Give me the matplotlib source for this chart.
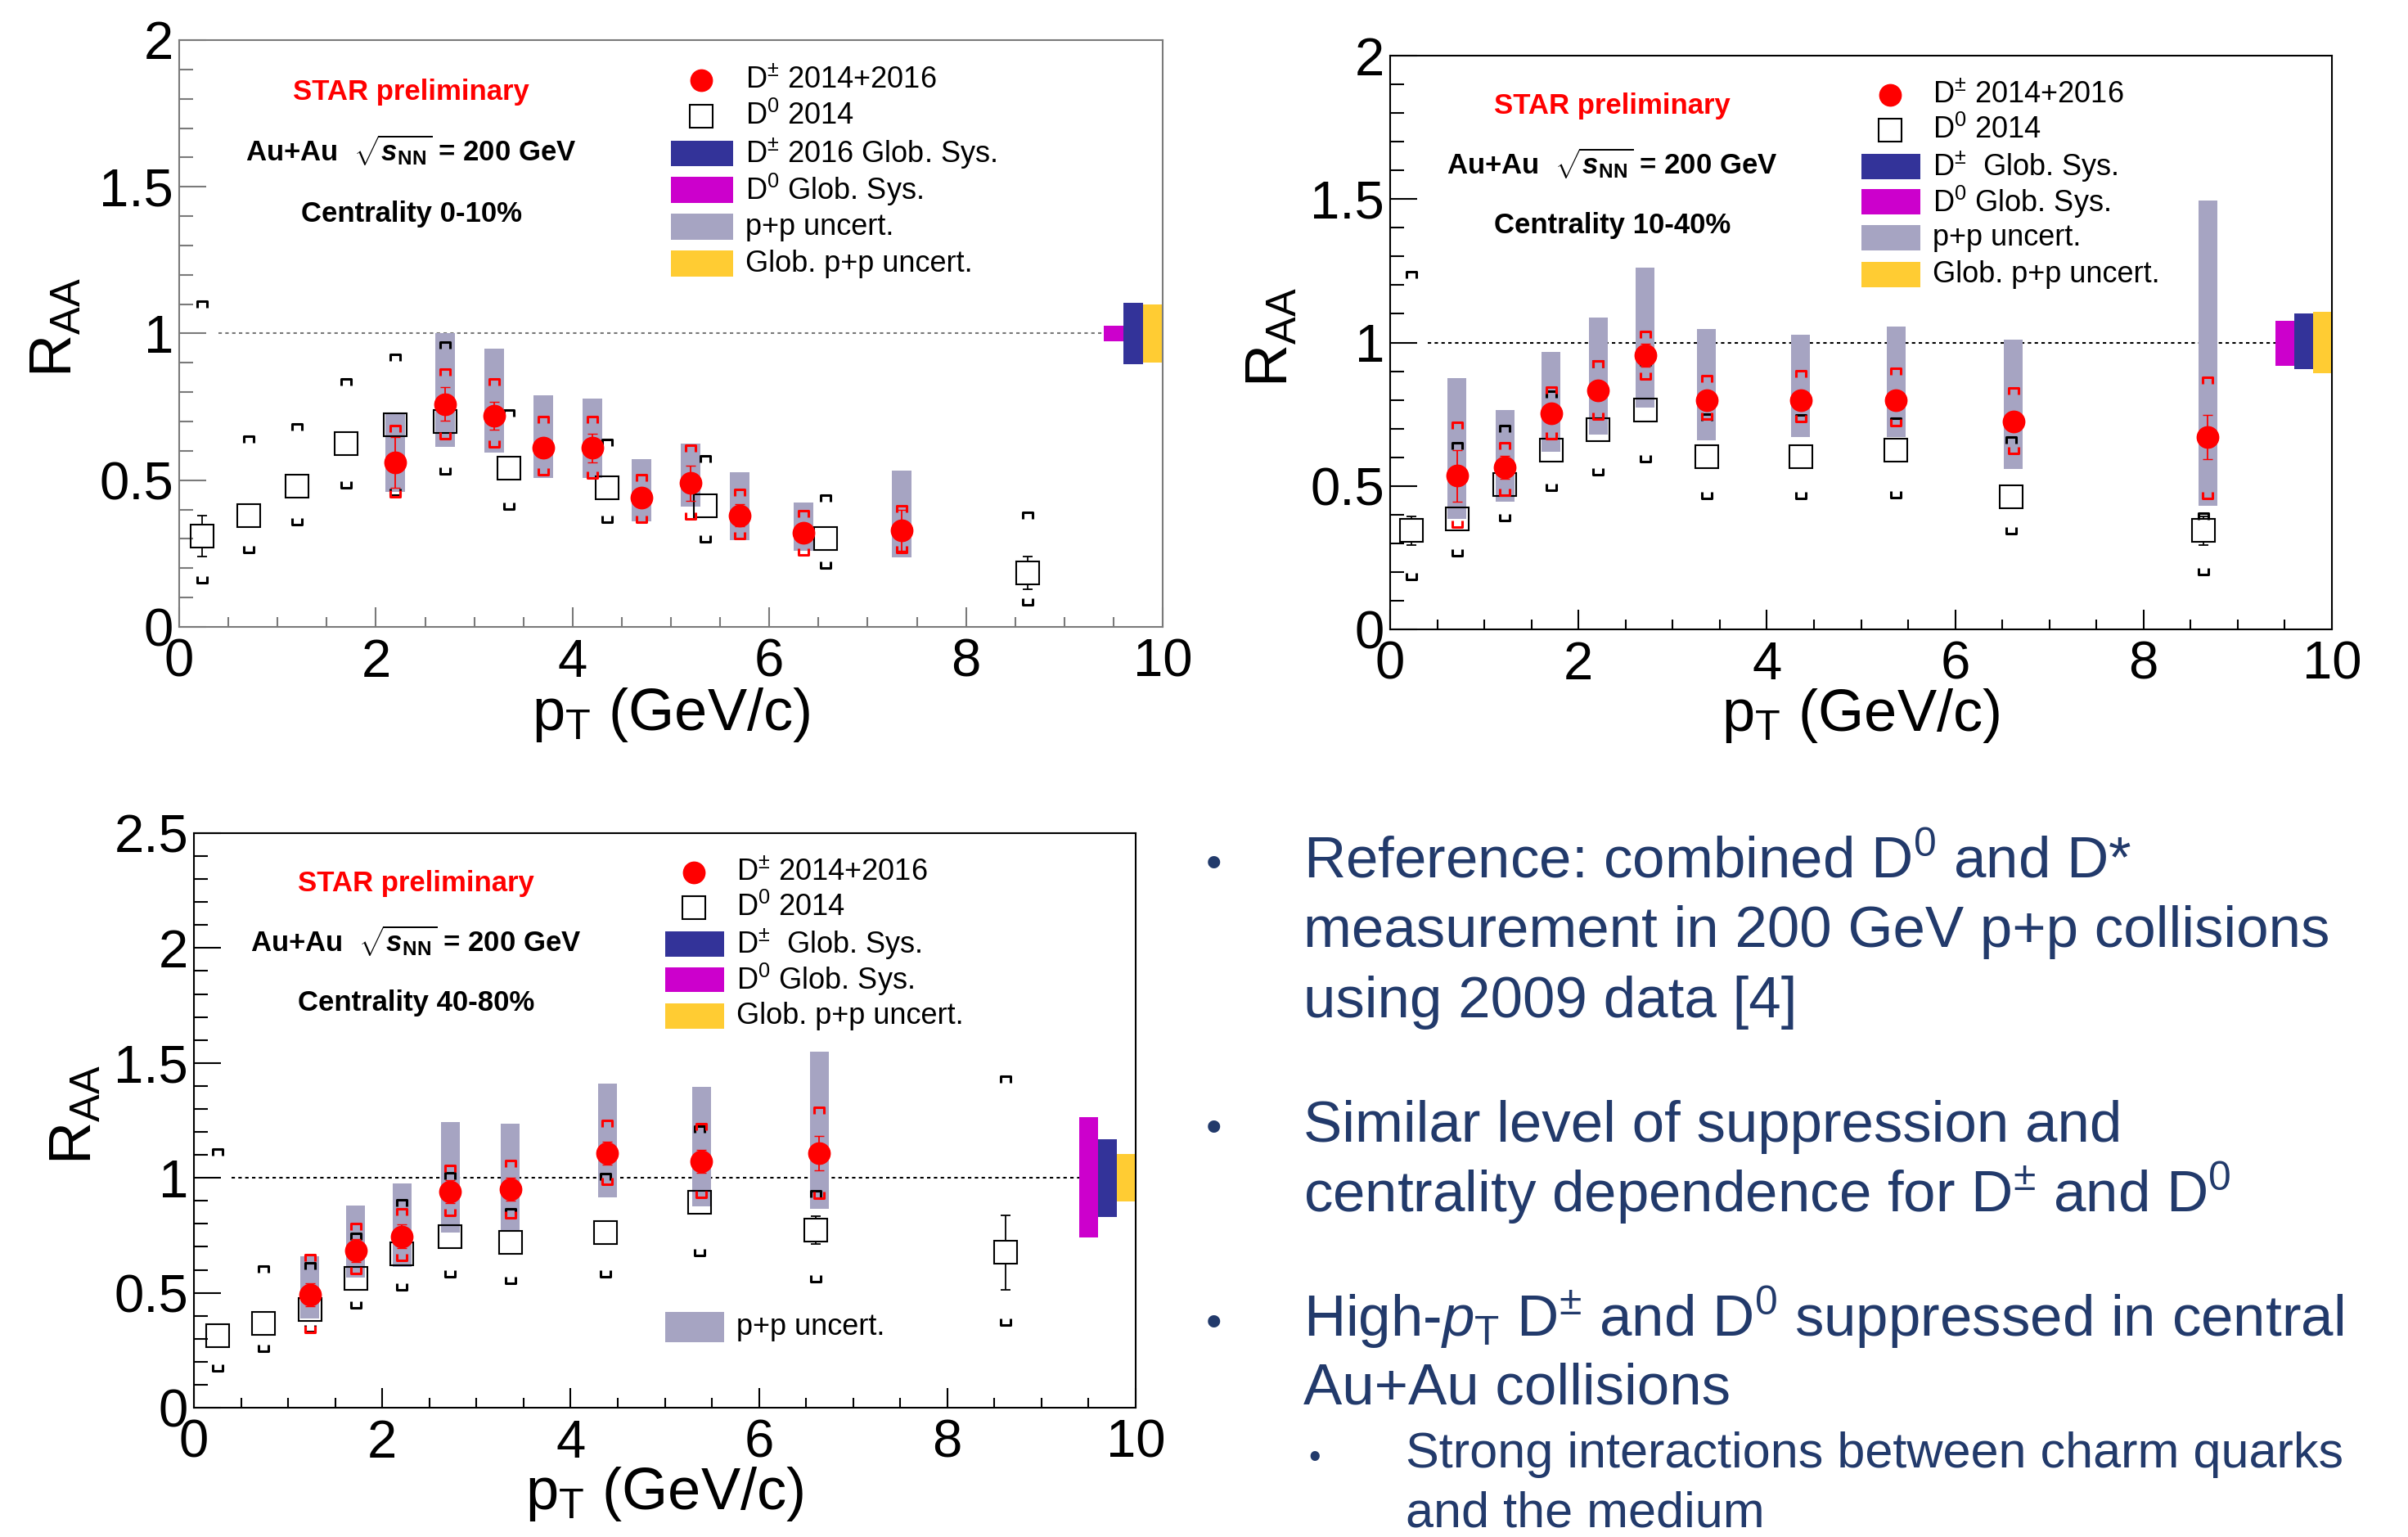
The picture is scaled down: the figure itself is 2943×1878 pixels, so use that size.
import matplotlib
matplotlib.use("Agg")
import matplotlib.pyplot as plt
from matplotlib.path import Path
from matplotlib.patches import Rectangle
from matplotlib.ticker import MultipleLocator, FuncFormatter

plt.rcParams['font.family'] = ['Liberation Sans', 'DejaVu Sans']
plt.rcParams['mathtext.fontset'] = 'custom'
plt.rcParams['mathtext.rm'] = 'Liberation Sans'
plt.rcParams['mathtext.it'] = 'Liberation Sans:italic'
plt.rcParams['mathtext.bf'] = 'Liberation Sans:bold'
plt.rcParams['mathtext.bfit'] = 'Liberation Sans:bold:italic'

GRAY = "#A6A4C2"
NAVY = "#333399"
MAGENTA = "#CC00CC"
YELLOW = "#FFCC33"
TXT = "#223A6B"

# ---------------- centrality 0-10% ----------------
c1_dpm_x = [2.2, 2.7, 3.2, 3.7, 4.2, 4.7, 5.2, 5.7, 6.35, 7.35]
c1_dpm_y = [0.56, 0.76, 0.72, 0.61, 0.61, 0.44, 0.49, 0.38, 0.32, 0.33]
c1_dpm_stat = [0.087, 0.057, 0.047, 0.03, 0.048, 0.03, 0.06, 0.038, 0.03, 0.07]
c1_dpm_sys_hi = [0.674, 0.867, 0.833, 0.705, 0.705, 0.509, 0.607, 0.458, 0.384, 0.401]
c1_dpm_sys_lo = [0.456, 0.652, 0.624, 0.529, 0.52, 0.369, 0.378, 0.312, 0.256, 0.266]
c1_pp_hi = [0.727, 1.0, 0.948, 0.79, 0.777, 0.571, 0.624, 0.528, 0.423, 0.533]
c1_pp_lo = [0.459, 0.615, 0.593, 0.509, 0.509, 0.361, 0.411, 0.296, 0.259, 0.237]
c1_d0_x = [0.23, 0.71, 1.2, 1.7, 2.2, 2.7, 3.35, 4.35, 5.35, 6.57, 8.63]
c1_d0_y = [0.31, 0.38, 0.48, 0.624, 0.69, 0.70, 0.54, 0.473, 0.414, 0.30, 0.185]
c1_d0_stat = [0.07, 0.02, 0.02, 0.02, 0.02, 0.02, 0.02, 0.02, 0.02, 0.02, 0.056]
c1_d0_sys_hi = [1.10, 0.638, 0.68, 0.833, 0.918, 0.959, 0.727, 0.627, 0.571, 0.438, 0.379]
c1_d0_sys_lo = [0.162, 0.266, 0.359, 0.484, 0.46, 0.534, 0.414, 0.369, 0.302, 0.212, 0.087]
c1_glob = {"D0": (0.973, 1.027), "Dpm": (0.895, 1.105), "pp": (0.90, 1.10)}

# ---------------- centrality 10-40% ----------------
c2_dpm_x = [0.71, 1.22, 1.71, 2.21, 2.71, 3.36, 4.36, 5.37, 6.62, 8.68]
c2_dpm_y = [0.535, 0.566, 0.752, 0.834, 0.957, 0.798, 0.798, 0.798, 0.726, 0.67]
c2_dpm_stat = [0.089, 0.04, 0.03, 0.03, 0.04, 0.03, 0.03, 0.03, 0.03, 0.077]
c2_dpm_sys_hi = [0.709, 0.638, 0.834, 0.925, 1.027, 0.872, 0.89, 0.899, 0.831, 0.868]
c2_dpm_sys_lo = [0.368, 0.479, 0.675, 0.745, 0.885, 0.745, 0.735, 0.723, 0.626, 0.467]
c2_pp_hi = [0.877, 0.766, 0.966, 1.087, 1.262, 1.048, 1.027, 1.055, 1.01, 1.496]
c2_pp_lo = [0.386, 0.446, 0.62, 0.68, 0.772, 0.66, 0.67, 0.67, 0.559, 0.431]
c2_d0_x = [0.23, 0.71, 1.22, 1.71, 2.21, 2.71, 3.36, 4.36, 5.37, 6.59, 8.64]
c2_d0_y = [0.345, 0.385, 0.504, 0.624, 0.697, 0.764, 0.602, 0.602, 0.624, 0.463, 0.345]
c2_d0_stat = [0.05, 0.02, 0.02, 0.02, 0.02, 0.02, 0.02, 0.02, 0.02, 0.02, 0.05]
c2_d0_sys_hi = [1.236, 0.638, 0.70, 0.82, 0.925, 0.93, 0.74, 0.737, 0.725, 0.66, 0.393]
c2_d0_sys_lo = [0.185, 0.267, 0.39, 0.496, 0.552, 0.595, 0.467, 0.467, 0.472, 0.345, 0.202]
c2_glob = {"D0": (0.92, 1.077), "Dpm": (0.906, 1.10), "pp": (0.894, 1.106)}

# ---------------- centrality 40-80% ----------------
c3_dpm_x = [1.23, 1.72, 2.21, 2.72, 3.36, 4.39, 5.39, 6.64]
c3_dpm_y = [0.49, 0.685, 0.746, 0.94, 0.951, 1.108, 1.073, 1.108]
c3_dpm_stat = [0.05, 0.05, 0.05, 0.05, 0.05, 0.05, 0.05, 0.075]
c3_dpm_sys_hi = [0.65, 0.787, 0.852, 1.04, 1.063, 1.237, 1.22, 1.294]
c3_dpm_sys_lo = [0.343, 0.599, 0.654, 0.852, 0.842, 0.986, 0.93, 0.926]
c3_pp_hi = [0.658, 0.879, 0.977, 1.243, 1.237, 1.41, 1.396, 1.55]
c3_pp_lo = [0.388, 0.568, 0.613, 0.762, 0.773, 0.916, 0.875, 0.867]
c3_d0_x = [0.25, 0.74, 1.23, 1.72, 2.21, 2.72, 3.36, 4.37, 5.37, 6.6, 8.62]
c3_d0_y = [0.313, 0.368, 0.429, 0.562, 0.671, 0.746, 0.72, 0.761, 0.894, 0.773, 0.675]
c3_d0_stat = [0.02, 0.02, 0.02, 0.02, 0.02, 0.02, 0.02, 0.02, 0.02, 0.06, 0.163]
c3_d0_sys_hi = [1.11, 0.603, 0.617, 0.746, 0.889, 1.008, 0.85, 1.006, 1.21, 0.93, 1.427]
c3_d0_sys_lo = [0.174, 0.26, 0.345, 0.45, 0.527, 0.583, 0.556, 0.583, 0.675, 0.562, 0.374]
c3_glob = {"D0": (0.74, 1.263), "Dpm": (0.83, 1.169), "pp": (0.896, 1.104)}

legend_12 = [r"D$^{\pm}$ 2014+2016", r"D$^{0}$ 2014", r"D$^{\pm}$ 2016 Glob. Sys.",
             r"D$^{0}$ Glob. Sys.", "p+p uncert.", "Glob. p+p uncert."]
legend_2 = [r"D$^{\pm}$ 2014+2016", r"D$^{0}$ 2014", r"D$^{\pm}$  Glob. Sys.",
            r"D$^{0}$ Glob. Sys.", "p+p uncert.", "Glob. p+p uncert."]
legend_3 = [r"D$^{\pm}$ 2014+2016", r"D$^{0}$ 2014", r"D$^{\pm}$  Glob. Sys.",
            r"D$^{0}$ Glob. Sys.", "Glob. p+p uncert."]

bullet_lines = [
    r"Reference: combined D$^{0}$ and D*",
    "measurement in 200 GeV p+p collisions",
    "using 2009 data [4]",
    "Similar level of suppression and",
    r"centrality dependence for D$^{\pm}$ and D$^{0}$",
    r"High-$\mathit{p}_{\mathrm{T}}$ D$^{\pm}$ and D$^{0}$ suppressed in central",
    "Au+Au collisions",
    "Strong interactions between charm quarks",
    "and the medium",
]

CAP_TOP = Path([(-1, -0.8), (-1, 0.8), (1, 0.8), (1, -0.8)],
               [Path.MOVETO, Path.LINETO, Path.LINETO, Path.LINETO])
CAP_BOT = Path([(-1, 0.8), (-1, -0.8), (1, -0.8), (1, 0.8)],
               [Path.MOVETO, Path.LINETO, Path.LINETO, Path.LINETO])

SQ_MS = 20


def draw_panel(ax, dpm, d0, glob, ymax, fcol, centrality, legend_labels, dotted_col):
    dx, dy, dstat, shi, slo, pphi, pplo = dpm
    zx, zy, zstat, zhi, zlo = d0

    ax.set_xlim(0, 10)
    ax.set_ylim(0, ymax)

    for x, lo, hi in zip(dx, pplo, pphi):
        ax.add_patch(Rectangle((x - 0.1, lo), 0.2, hi - lo, fc=GRAY, ec="none", zorder=2))

    ax.plot([0.4, 9.45], [1, 1], ls=(0, (2, 2)), lw=1.5, color=dotted_col, zorder=1)

    # open squares, stat bars only outside the marker (ROOT style)
    ax.plot(zx, zy, "s", ms=SQ_MS, mfc="none", mec="black", mew=1.5, zorder=3)
    px_per_y = ax.get_position().height * fig.bbox.height / ymax
    px_per_x = ax.get_position().width * fig.bbox.width / 10
    half = SQ_MS / 2 * 100 / 72 / px_per_y
    cw = 6 / px_per_x
    for x, y, e in zip(zx, zy, zstat):
        if e > half:
            ax.vlines([x, x], [y + half, y - e], [y + e, y - half], color="black", lw=1.3, zorder=3)
            ax.hlines([y + e, y - e], x - cw, x + cw, color="black", lw=1.3, zorder=3)
    ax.plot(zx, zhi, ls="none", marker=CAP_TOP, ms=8, mfc="none", mec="black", mew=2.2, zorder=3)
    ax.plot(zx, zlo, ls="none", marker=CAP_BOT, ms=8, mfc="none", mec="black", mew=2.2, zorder=3)

    ax.plot(dx, shi, ls="none", marker=CAP_TOP, ms=8, mfc="none", mec="red", mew=2.2, zorder=4)
    ax.plot(dx, slo, ls="none", marker=CAP_BOT, ms=8, mfc="none", mec="red", mew=2.2, zorder=4)
    ax.errorbar(dx, dy, yerr=dstat, fmt="o", ms=19, mfc="red", mec="red",
                ecolor="red", elinewidth=1.3, capsize=4.5, zorder=5)

    for xc, key, col in [(9.5, "D0", MAGENTA), (9.7, "Dpm", NAVY), (9.9, "pp", YELLOW)]:
        lo, hi = glob[key]
        ax.add_patch(Rectangle((xc - 0.1, lo), 0.2, hi - lo, fc=col, ec="none", zorder=2))

    ax.xaxis.set_major_locator(MultipleLocator(2))
    ax.xaxis.set_minor_locator(MultipleLocator(0.5))
    ax.yaxis.set_major_locator(MultipleLocator(0.5))
    ax.yaxis.set_minor_locator(MultipleLocator(0.1))
    fmt = FuncFormatter(lambda v, p: f"{v:g}")
    ax.xaxis.set_major_formatter(fmt)
    ax.yaxis.set_major_formatter(fmt)
    ax.tick_params(which="both", direction="in", top=False, right=False,
                   color=fcol, width=1.5, labelsize=47, labelcolor="black")
    ax.tick_params(axis="y", which="major", length=24, pad=5)
    ax.tick_params(axis="y", which="minor", length=12)
    ax.tick_params(axis="x", which="major", length=17, pad=10)
    ax.tick_params(axis="x", which="minor", length=9)
    for s in ax.spines.values():
        s.set_color(fcol)
        s.set_linewidth(1.5)

    ax.set_xlabel(r"p$_{\mathrm{T}}$ (GeV/c)", fontsize=52)
    ax.xaxis.set_label_coords(0.5, -0.1)
    ax.text(-0.125, 0.51, r"R$_{\mathrm{AA}}$", fontsize=52, rotation=90,
            ha="center", va="center", transform=ax.transAxes)

    ax.text(0.236, 0.912, "STAR preliminary", color="red", weight="bold", fontsize=25,
            ha="center", va="center", transform=ax.transAxes)
    ax.text(0.236, 0.812, r"Au+Au  $\sqrt{\mathbfit{s}_{\mathbf{NN}}}$ = 200 GeV", weight="bold",
            fontsize=25, ha="center", va="center", transform=ax.transAxes)
    ax.text(0.236, 0.704, centrality, weight="bold", fontsize=25,
            ha="center", va="center", transform=ax.transAxes)

    rows = [0.932, 0.870, 0.807, 0.745, 0.682, 0.619]
    boxes = [NAVY, MAGENTA, GRAY, YELLOW] if len(legend_labels) == 6 else [NAVY, MAGENTA, YELLOW]
    ax.plot([0.531], [rows[0]], "o", ms=19, color="red", transform=ax.transAxes, clip_on=False)
    ax.plot([0.531], [rows[1]], "s", ms=SQ_MS, mfc="white", mec="black", mew=1.5,
            transform=ax.transAxes, clip_on=False)
    for i, col in enumerate(boxes):
        y = rows[i + 2]
        ax.add_patch(Rectangle((0.5, y - 0.022), 0.063, 0.044, fc=col, ec="none",
                               transform=ax.transAxes))
    for i, lab in enumerate(legend_labels):
        ax.text(0.576, rows[i], lab, fontsize=26, ha="left", va="center", transform=ax.transAxes)
    if len(legend_labels) == 5:
        ax.add_patch(Rectangle((0.5, 0.14 - 0.026), 0.063, 0.052, fc=GRAY, ec="none",
                               transform=ax.transAxes))
        ax.text(0.576, 0.14, "p+p uncert.", fontsize=26, ha="left", va="center",
                transform=ax.transAxes)


W, H = 2943, 1878
fig = plt.figure(figsize=(W / 100, H / 100), dpi=100)

ax1 = fig.add_axes([219 / W, 1 - 766 / H, 1202 / W, 717 / H])
ax2 = fig.add_axes([1699 / W, 1 - 769 / H, 1151 / W, 701 / H])
ax3 = fig.add_axes([237 / W, 1 - 1720 / H, 1151 / W, 702 / H])

draw_panel(ax1,
           (c1_dpm_x, c1_dpm_y, c1_dpm_stat, c1_dpm_sys_hi, c1_dpm_sys_lo, c1_pp_hi, c1_pp_lo),
           (c1_d0_x, c1_d0_y, c1_d0_stat, c1_d0_sys_hi, c1_d0_sys_lo),
           c1_glob, 2.0, "#7A7A7A", "Centrality 0-10%", legend_12, "#777777")
draw_panel(ax2,
           (c2_dpm_x, c2_dpm_y, c2_dpm_stat, c2_dpm_sys_hi, c2_dpm_sys_lo, c2_pp_hi, c2_pp_lo),
           (c2_d0_x, c2_d0_y, c2_d0_stat, c2_d0_sys_hi, c2_d0_sys_lo),
           c2_glob, 2.0, "black", "Centrality 10-40%", legend_2, "black")
draw_panel(ax3,
           (c3_dpm_x, c3_dpm_y, c3_dpm_stat, c3_dpm_sys_hi, c3_dpm_sys_lo, c3_pp_hi, c3_pp_lo),
           (c3_d0_x, c3_d0_y, c3_d0_stat, c3_d0_sys_hi, c3_d0_sys_lo),
           c3_glob, 2.5, "black", "Centrality 40-80%", legend_3, "black")

# bullet text on the lower right
baselines = [1072, 1157, 1243, 1395, 1481, 1633, 1716, 1793, 1865]
for i, (line, yb) in enumerate(zip(bullet_lines, baselines)):
    sub = i >= 7
    x0 = 1718 if sub else 1593
    fs = 44 if sub else 51
    fig.text(x0 / W, 1 - yb / H, line, fontsize=fs, color=TXT, ha="left", va="baseline")
for i in [0, 3, 5]:
    fig.text(1483 / W, 1 - baselines[i] / H, "\u2022", fontsize=40, color=TXT,
             ha="center", va="baseline")
fig.text(1607 / W, 1 - baselines[7] / H, "\u2022", fontsize=30, color=TXT,
         ha="center", va="baseline")

fig.savefig("out.png", dpi=100)
